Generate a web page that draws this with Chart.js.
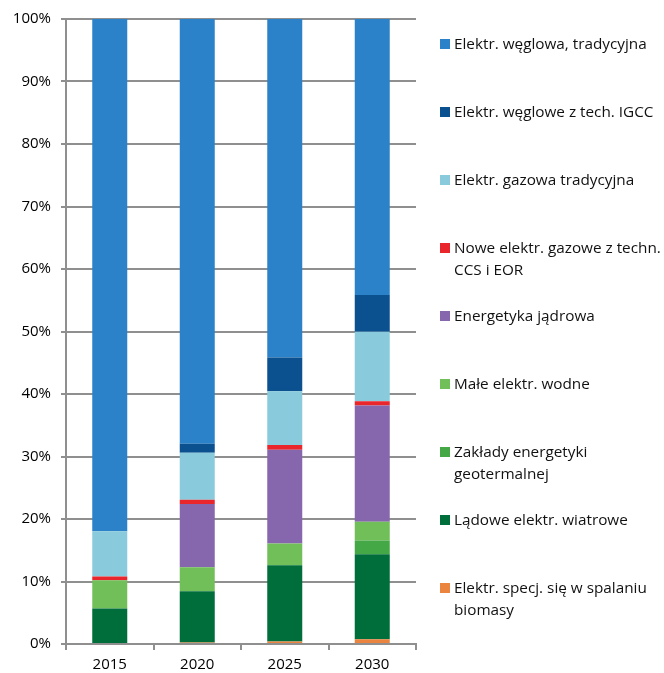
<!DOCTYPE html>
<html>
<head>
<meta charset="utf-8">
<script src="https://cdn.jsdelivr.net/npm/chart.js@4"></script>
<style>
    body { margin: 0; background: #fff; }
    #wrap { position: relative; width: 664px; height: 673px; }
    #legend { position: absolute; left: 440px; top: 0; font-family: "Open Sans", sans-serif; font-size: 15.3px; color: #111; }
    .item { position: absolute; left: 0; width: 224px; line-height: 21.7px; padding-left: 14px; white-space: nowrap; }
    .item span.box { position: absolute; left: 0; top: 6px; width: 10px; height: 10px; }
</style>
</head>
<body>
<div id="wrap">
    <canvas id="chart" width="664" height="673"></canvas>
    <div id="legend"></div>
</div>
<script>
// lata
const years = ['2015', '2020', '2025', '2030'];

// udzialy w % (od dolu stosu)
const biomasa = [0, 0.25, 0.4, 0.75];
const wiatrowe = [5.7, 8.2, 12.2, 13.6];
const geotermalne = [0, 0, 0, 2.2];
const maleWodne = [4.5, 3.85, 3.5, 3.0];
const jadrowa = [0, 10.1, 15.0, 18.6];
const gazoweCCS = [0.6, 0.7, 0.75, 0.7];
const gazowaTrad = [7.25, 7.5, 8.6, 11.1];
const weglowaIGCC = [0, 1.45, 5.4, 5.9];
const weglowaTrad = [81.95, 67.95, 54.15, 44.15];

const yTicks = [0, 10, 20, 30, 40, 50, 60, 70, 80, 90, 100];

// kolejnosc legendy (od gory)
const series = [
    { label: 'Elektr. węglowa, tradycyjna', data: weglowaTrad, color: '#2b82c9' },
    { label: 'Elektr. węglowe z tech. IGCC', data: weglowaIGCC, color: '#0b5190' },
    { label: 'Elektr. gazowa tradycyjna', data: gazowaTrad, color: '#89cbdc' },
    { label: 'Nowe elektr. gazowe z techn.\nCCS i EOR', data: gazoweCCS, color: '#e8262b' },
    { label: 'Energetyka jądrowa', data: jadrowa, color: '#8667ad' },
    { label: 'Małe elektr. wodne', data: maleWodne, color: '#70bf58' },
    { label: 'Zakłady energetyki\ngeotermalnej', data: geotermalne, color: '#43a845' },
    { label: 'Lądowe elektr. wiatrowe', data: wiatrowe, color: '#006e3a' },
    { label: 'Elektr. specj. się w spalaniu\nbiomasy', data: biomasa, color: '#ea843f' }
];

const gridColor = '#8f8f8f';
const tickFont = { family: 'Open Sans', size: 15 };

const datasets = series.slice().reverse().map((s) => ({
    label: s.label,
    data: s.data,
    backgroundColor: s.color,
    borderWidth: 0,
    categoryPercentage: 1.0,
    barPercentage: 0.4
}));

new Chart(document.getElementById('chart'), {
    type: 'bar',
    data: { labels: years, datasets: datasets },
    options: {
        responsive: false,
        animation: false,
        layout: { padding: { left: 0, top: 19, right: 248, bottom: 0 } },
        plugins: { legend: { display: false }, tooltip: { enabled: false } },
        scales: {
            x: {
                stacked: true,
                grid: { display: true, drawOnChartArea: false, drawTicks: true, tickLength: 6, color: gridColor, lineWidth: 2 },
                border: { color: gridColor, width: 2 },
                ticks: { color: '#000', font: tickFont, padding: 6 },
                afterFit: (scale) => { scale.height = 29; }
            },
            y: {
                stacked: true,
                min: 0,
                max: 100,
                afterBuildTicks: (scale) => { scale.ticks = yTicks.map((v) => ({ value: v })); },
                grid: { color: gridColor, lineWidth: 2, tickLength: 5 },
                border: { color: gridColor, width: 2 },
                ticks: { color: '#000', font: tickFont, padding: 10, callback: (v) => v + '%' },
                afterFit: (scale) => { scale.width = 66; }
            }
        }
    }
});

const legend = document.getElementById('legend');
series.forEach((s, i) => {
    const div = document.createElement('div');
    div.className = 'item';
    div.style.top = (33 + i * 68) + 'px';
    const box = document.createElement('span');
    box.className = 'box';
    box.style.background = s.color;
    div.appendChild(box);
    s.label.split('\n').forEach((line, j) => {
        if (j > 0) div.appendChild(document.createElement('br'));
        div.appendChild(document.createTextNode(line));
    });
    legend.appendChild(div);
});
</script>
</body>
</html>
